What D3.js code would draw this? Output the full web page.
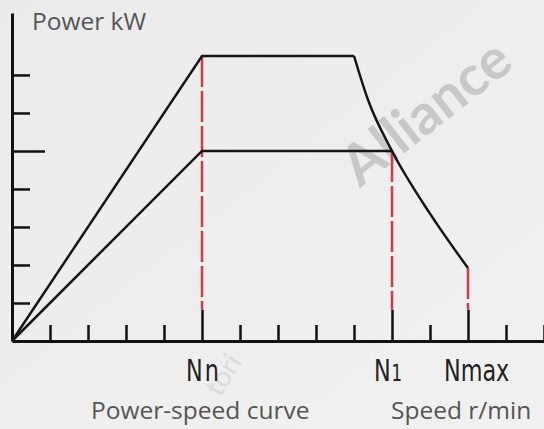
<!DOCTYPE html>
<html>
<head>
<meta charset="utf-8">
<script src="https://cdn.jsdelivr.net/npm/d3@7"></script>
<style>
  html, body { margin: 0; padding: 0; }
  body { width: 544px; height: 429px; overflow: hidden; }
  .lbl { font-family: "Open Sans", Lato, sans-serif; fill: #555; }
  .speed { font-family: "DejaVu Sans", sans-serif; fill: #222; }
</style>
</head>
<body>
<svg id="chart" width="544" height="429"></svg>
<script>
// speed in tick units, power in tick units
var xTicks = [1, 2, 3, 4, 5, 6, 7, 8, 9, 10, 11, 12, 13, 14]
var yTicks = [1, 2, 3, 4, 5, 6, 7]
var markSpeeds = [5, 10, 12]
var markNames = [["N", "n"], ["N", "1"], ["Nmax", ""]]

// upper curve: ramp, plateau, then drop
var upperRamp = [[0, 0], [5, 7.5], [9, 7.5]]
var upperDrop = [[9, 7.5], [9.37, 6.34], [10, 5], [11, 3.35], [12, 1.92]]
// lower curve
var lowerCurve = [[0, 0], [5, 5], [10, 5]]
// red dashed drops: speed, top power
var dropTops = [[5, 7.5], [10, 5], [12, 1.92]]

var width = 544, height = 429
var svg = d3.select('#chart')

// background
var defs = svg.append('defs')
var grad = defs.append('linearGradient').attr('id', 'bg')
    .attr('x1', 0).attr('y1', 0).attr('x2', 1).attr('y2', 1)
grad.append('stop').attr('offset', '0%').attr('stop-color', '#ebebeb')
grad.append('stop').attr('offset', '100%').attr('stop-color', '#f1f1f1')
svg.append('rect').attr('width', width).attr('height', height).attr('fill', 'url(#bg)')

var x = d3.scaleLinear().domain([0, 14]).range([12, 544])
var y = d3.scaleLinear().domain([0, 8.63]).range([341, 13])

// watermarks
svg.append('text')
    .attr('transform', 'translate(360,188) rotate(-38)')
    .style('font-family', 'Lato, sans-serif')
    .style('font-weight', 'bold')
    .style('font-size', '56px')
    .style('fill', '#c8c8c8')
    .text('Alliance')
svg.append('text')
    .attr('transform', 'translate(220,398) rotate(-58)')
    .style('font-family', 'Lato, sans-serif')
    .style('font-size', '28px')
    .style('fill', '#dcdcdc')
    .text('tori')

// x axis, ticks pointing up
var xAxis = svg.append('g')
    .attr('transform', 'translate(0,' + y(0) + ')')
    .call(d3.axisTop(x).tickValues(xTicks).tickSize(16).tickSizeOuter(0).tickFormat(''))
xAxis.select('.domain').attr('stroke', '#111').attr('stroke-width', 3)
xAxis.selectAll('.tick line')
    .attr('stroke', '#111').attr('stroke-width', 2.5)
    .attr('y2', function (d) { return markSpeeds.indexOf(d) >= 0 ? y(0.82) - y(0) : -16 })

// y axis, ticks pointing right
var yAxis = svg.append('g')
    .attr('transform', 'translate(' + x(0) + ',0)')
    .call(d3.axisRight(y).tickValues(yTicks).tickSize(18).tickSizeOuter(0).tickFormat(''))
yAxis.select('.domain').attr('stroke', '#111').attr('stroke-width', 3)
yAxis.selectAll('.tick line')
    .attr('stroke', '#111').attr('stroke-width', 2.5)
    .attr('x2', function (d) { return d == 5 ? 33 : 18 })

// red dashed drop lines
svg.selectAll('.drop')
    .data(dropTops)
    .enter()
    .append('line')
    .attr('class', 'drop')
    .attr('x1', function (d) { return x(d[0]) })
    .attr('x2', function (d) { return x(d[0]) })
    .attr('y1', function (d) { return y(d[1]) })
    .attr('y2', y(0.82))
    .attr('stroke', '#d03a40')
    .attr('stroke-width', 2.5)
    .attr('stroke-dasharray', '31,4')

// curves
var lineLin = d3.line().x(function (d) { return x(d[0]) }).y(function (d) { return y(d[1]) })
var lineCurve = d3.line().curve(d3.curveMonotoneX).x(function (d) { return x(d[0]) }).y(function (d) { return y(d[1]) })

svg.append('path').attr('d', lineLin(upperRamp))
    .attr('fill', 'none').attr('stroke', '#161616').attr('stroke-width', 2.5)
svg.append('path').attr('d', lineCurve(upperDrop))
    .attr('fill', 'none').attr('stroke', '#161616').attr('stroke-width', 2.5)
svg.append('path').attr('d', lineLin(lowerCurve))
    .attr('fill', 'none').attr('stroke', '#161616').attr('stroke-width', 2.5)

// speed labels (narrowed glyphs)
var labelShift = [-16, -18, -24]
var marks = svg.selectAll('.speed')
    .data(markSpeeds)
    .enter()
    .append('text')
    .attr('class', 'speed')
    .attr('transform', function (d, i) { return 'translate(' + (x(d) + labelShift[i]) + ',381) scale(0.72,1)' })
    .style('font-size', '31px')
marks.append('tspan').text(function (d, i) { return markNames[i][0] })
marks.append('tspan')
    .style('font-size', function (d, i) { return i == 1 ? '23px' : '31px' })
    .attr('dx', function (d, i) { return i == 0 ? 3 : 1 })
    .text(function (d, i) { return markNames[i][1] })

// titles
svg.append('text').attr('class', 'lbl').attr('x', 32).attr('y', 30)
    .style('font-size', '24.5px').text('Power kW')
svg.append('text').attr('class', 'lbl').attr('x', 91).attr('y', 419)
    .style('font-size', '24.5px').text('Power-speed curve')
svg.append('text').attr('class', 'lbl').attr('x', 391).attr('y', 419)
    .style('font-size', '24.5px').text('Speed r/min')
</script>
</body>
</html>
